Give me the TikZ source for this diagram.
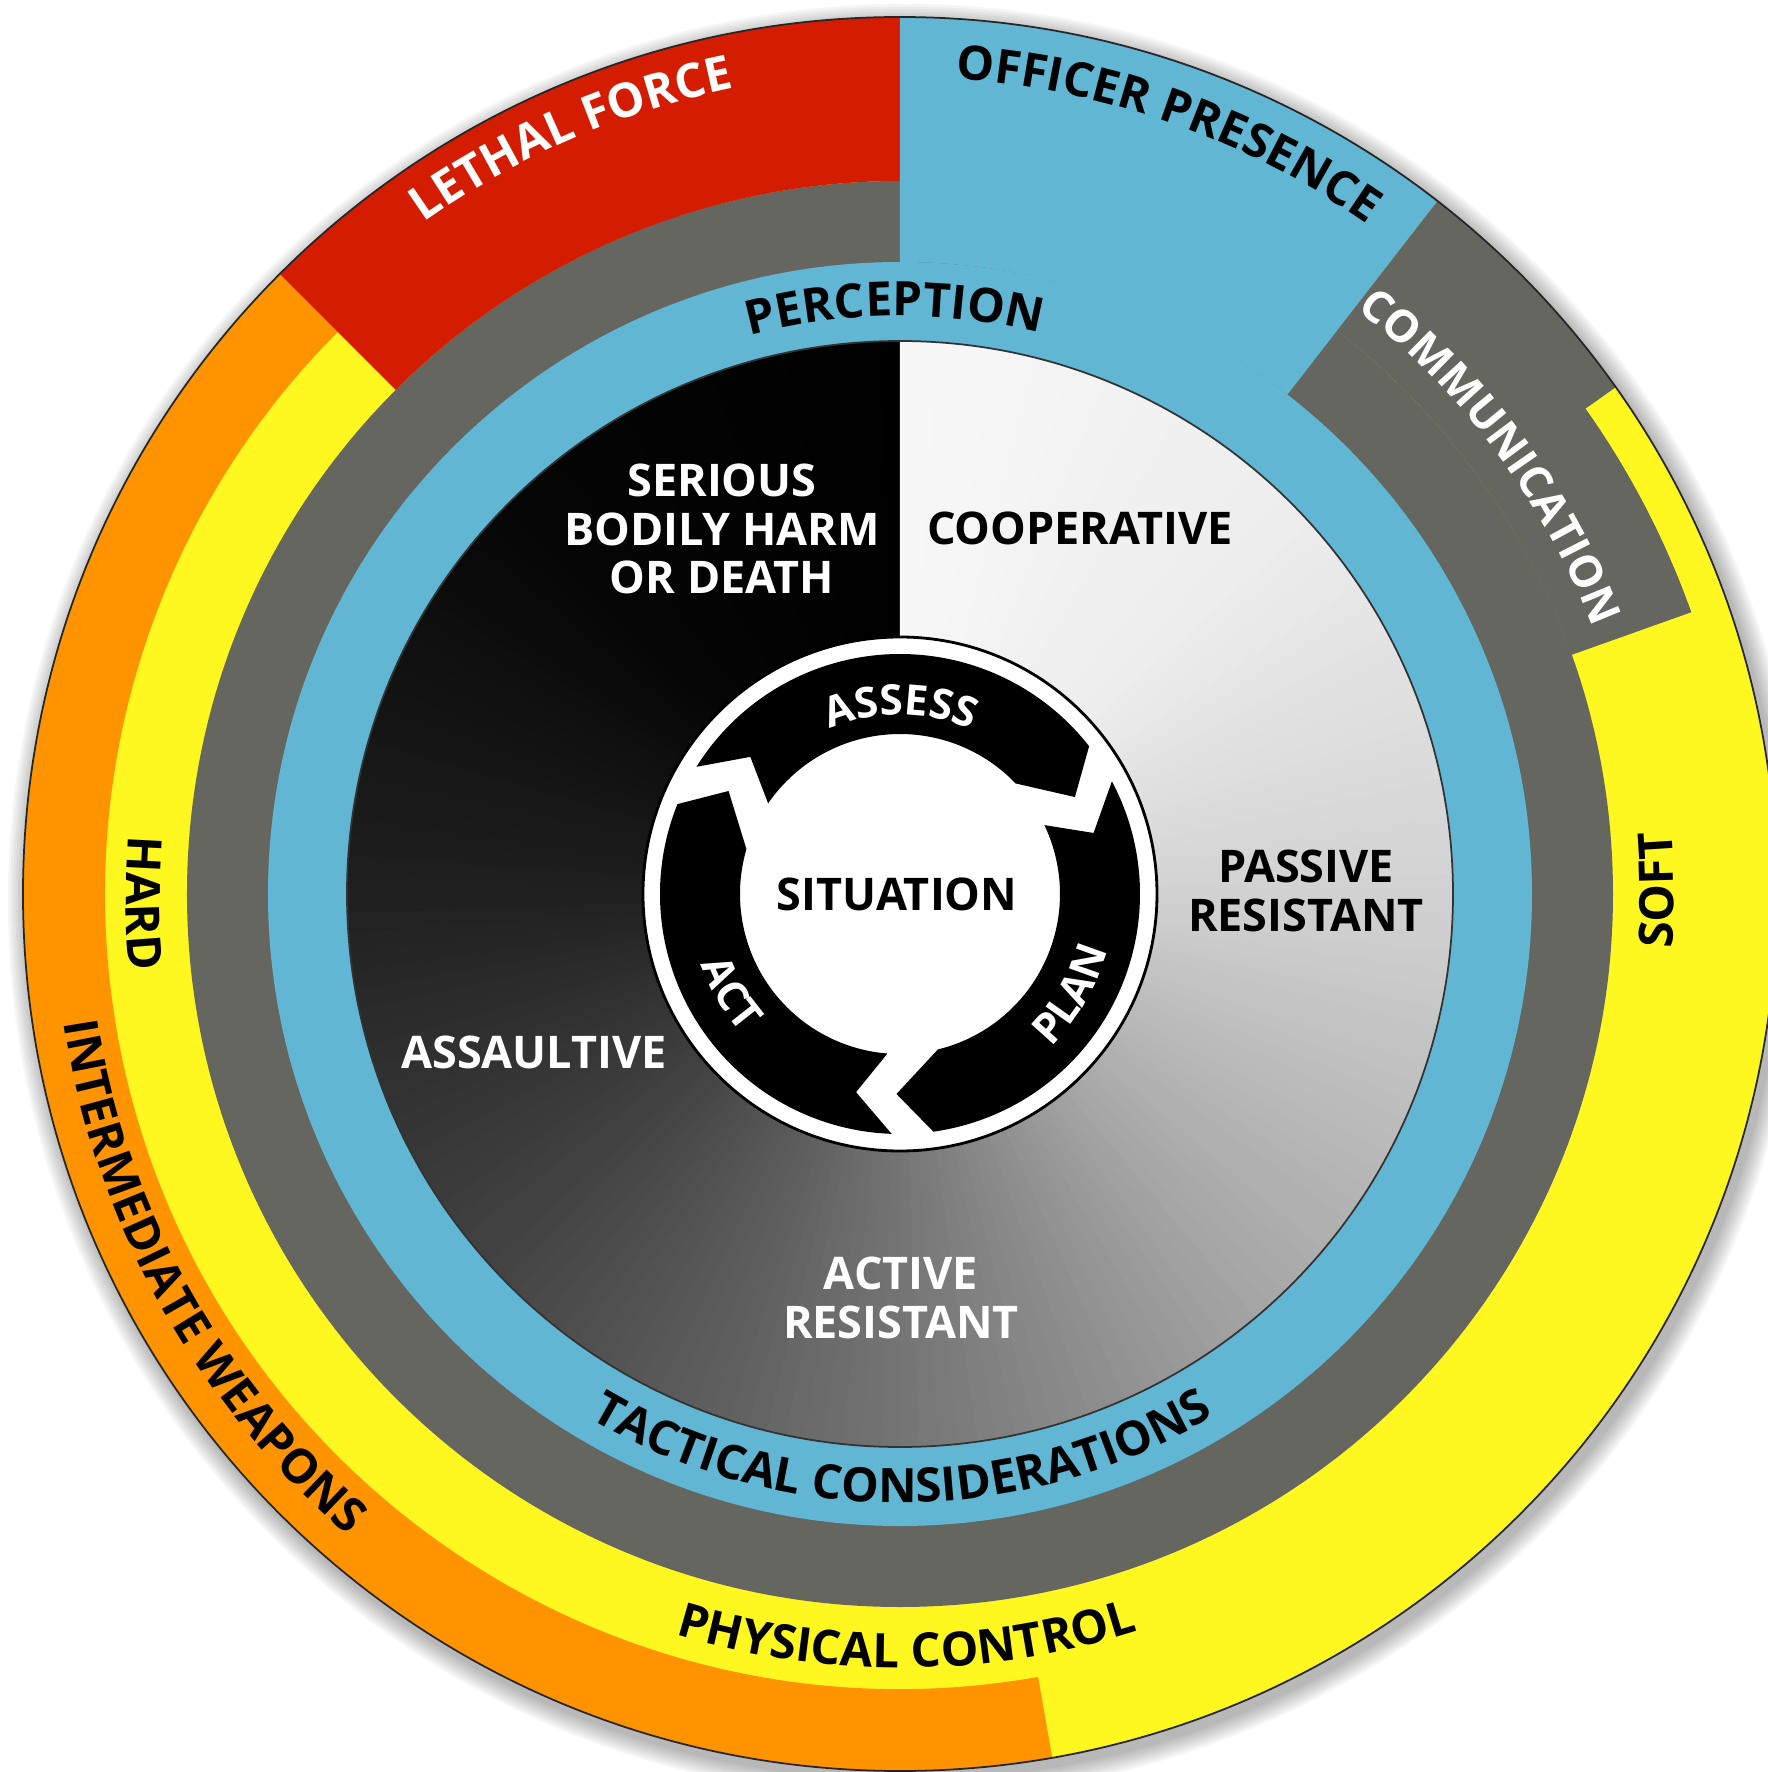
\documentclass[tikz,border=0pt]{standalone}
\usepackage{fontspec}
\setmainfont{Open Sans}
\usetikzlibrary{decorations.text}

\definecolor{lethalred}{RGB}{212,28,0}
\definecolor{presenceblue}{RGB}{96,182,211}
\definecolor{commgray}{RGB}{102,102,96}
\definecolor{weaponorange}{RGB}{255,148,0}
\definecolor{controlyellow}{RGB}{255,247,32}

\newcommand{\ringfont}{\fontsize{13.5}{16}\selectfont\bfseries}
\newcommand{\commfont}{\fontsize{12.6}{15}\selectfont\bfseries}
\newcommand{\cyclefont}{\fontsize{12}{14}\selectfont\bfseries}
\newcommand{\ringsector}[5]{%
	\fill[#1] (#4:#3) arc[start angle=#4, end angle=#5, radius=#3]
		-- (#5:#2) arc[start angle=#5, end angle=#4, radius=#2] -- cycle;}

\tikzset{
	arclabel/.style={decorate, decoration={text along path, text align=center, text color=#1}},
	arclabel/.default=black,
	zonelabel/.style={font=\fontsize{12.8}{13.8}\selectfont\bfseries, align=center, inner sep=0pt},
}

\begin{document}
\begin{tikzpicture}
	\useasboundingbox (-9.00,-8.78) rectangle (8.68,8.94);

	% sombra
	\foreach \k in {1,...,8}
		\fill[black, opacity=0.04] (0.05,-0.07) circle[radius={8.77+0.025*\k}];

	% aneis externos
	\fill[controlyellow] (0,0) circle[radius=8.77];
	\fill[commgray] (0,0) circle[radius=7.13];
	\fill[presenceblue] (0,0) circle[radius=6.32];
	\ringsector{weaponorange}{7.95}{8.77}{135}{280}
	\ringsector{lethalred}{7.13}{8.77}{90}{135}
	\ringsector{presenceblue}{6.32}{8.77}{52.2}{90}
	\fill[commgray] (52.2:8.77) arc[start angle=52.2, end angle=35.3, radius=8.77]
		-- (35.3:8.40) arc[start angle=35.3, end angle=19.6, radius=8.40]
		-- (19.6:7.13) arc[start angle=19.6, end angle=52.2, radius=7.13] -- cycle;
	\draw[black!85, line width=0.5pt] (0,0) circle[radius=8.77];

	% disco central
	\def\discshades{{97,93,82,66,45,27,12,2,0}}
	\foreach \p in {0,2,...,358} {
		\pgfmathsetmacro\idx{int(floor(\p/45))}
		\pgfmathsetmacro\wa{\discshades[\idx]}
		\pgfmathsetmacro\wb{\discshades[\idx+1]}
		\pgfmathsetmacro\w{\wa+(\wb-\wa)*(\p-45*\idx)/45}
		\fill[white!\w!black] (0,0) -- ({90-\p}:5.53)
			arc[start angle={90-\p}, end angle={90-\p-2.4}, radius=5.53] -- cycle;
	}
	\fill[white!97!black] (0,0) -- (90:5.53) arc[start angle=90, end angle=87.6, radius=5.53] -- cycle;
	\draw[black!80, line width=0.5pt] (0,0) circle[radius=5.53];

	% ciclo
	\fill[white, draw=black, line width=0.8pt] (0,0) circle[radius=2.57];
	\foreach \a/\b in {153/33, 33/-87, 273/153}
		\fill[black] ({\a-5}:2.40) arc[start angle={\a-5}, end angle={\b+5}, radius=2.40]
			-- ({\b-4}:2.00) -- ({\b+10.7}:1.60)
			arc[start angle={\b+10.7}, end angle={\a-7.5}, radius=1.60]
			-- ({\a-15.5}:2.03) -- cycle;

	% rotulos dos aneis
	\path[arclabel=white, decoration={text={|\ringfont|LETHAL FORCE}}]
		(153.5:8.23) arc[start angle=153.5, end angle=73.5, radius=8.23];
	\path[arclabel, decoration={text={|\ringfont|OFFICER PRESENCE}}]
		(110.6:8.17) arc[start angle=110.6, end angle=30.6, radius=8.17];
	\path[arclabel=white, decoration={text={|\commfont|COMMUNICATION}}]
		(76.5:7.42) arc[start angle=76.5, end angle=-3.5, radius=7.42];
	\path[arclabel, decoration={text={|\ringfont|PERCEPTION}}]
		(130.5:5.78) arc[start angle=130.5, end angle=50.5, radius=5.78];
	\path[arclabel, decoration={text={|\ringfont|SOFT}}]
		(-39.7:7.74) arc[start angle=-39.7, end angle=40.3, radius=7.74];
	\path[arclabel, decoration={text={|\ringfont|HARD}}]
		(140.7:7.74) arc[start angle=140.7, end angle=220.7, radius=7.74];
	\path[arclabel, decoration={text={|\ringfont|PHYSICAL CONTROL}}]
		(230.5:7.74) arc[start angle=230.5, end angle=310.5, radius=7.74];
	\path[arclabel, decoration={text={|\ringfont|TACTICAL CONSIDERATIONS}}]
		(215.2:6.09) arc[start angle=215.2, end angle=325.2, radius=6.09];
	\path[arclabel, decoration={text={|\ringfont|INTERMEDIATE WEAPONS}}]
		(169:8.46) arc[start angle=169, end angle=249, radius=8.46];

	% rotulos do ciclo
	\path[arclabel=white, decoration={text={|\cyclefont|ASSESS}}]
		(139.7:1.79) arc[start angle=139.7, end angle=39.7, radius=1.79];
	\path[arclabel=white, decoration={text={|\cyclefont|PLAN}}]
		(-80.3:2.15) arc[start angle=-80.3, end angle=19.7, radius=2.15];
	\path[arclabel=white, decoration={text={|\cyclefont|ACT}}]
		(160.5:2.11) arc[start angle=160.5, end angle=260.5, radius=2.11];

	% zonas do disco
	\node[zonelabel, text=white] (harm) at (-1.78,3.65) {SERIOUS\\BODILY HARM\\OR DEATH};
	\node[zonelabel] (coop) at (1.80,3.66) {COOPERATIVE};
	\node[zonelabel] (passive) at (4.06,0.03) {PASSIVE\\RESISTANT};
	\node[zonelabel, text=white] (assault) at (-3.66,-1.58) {ASSAULTIVE};
	\node[zonelabel, text=white] (active) at (0.01,-4.04) {ACTIVE\\RESISTANT};
	\node[zonelabel] (situation) at (-0.03,0) {SITUATION};
\end{tikzpicture}
\end{document}
